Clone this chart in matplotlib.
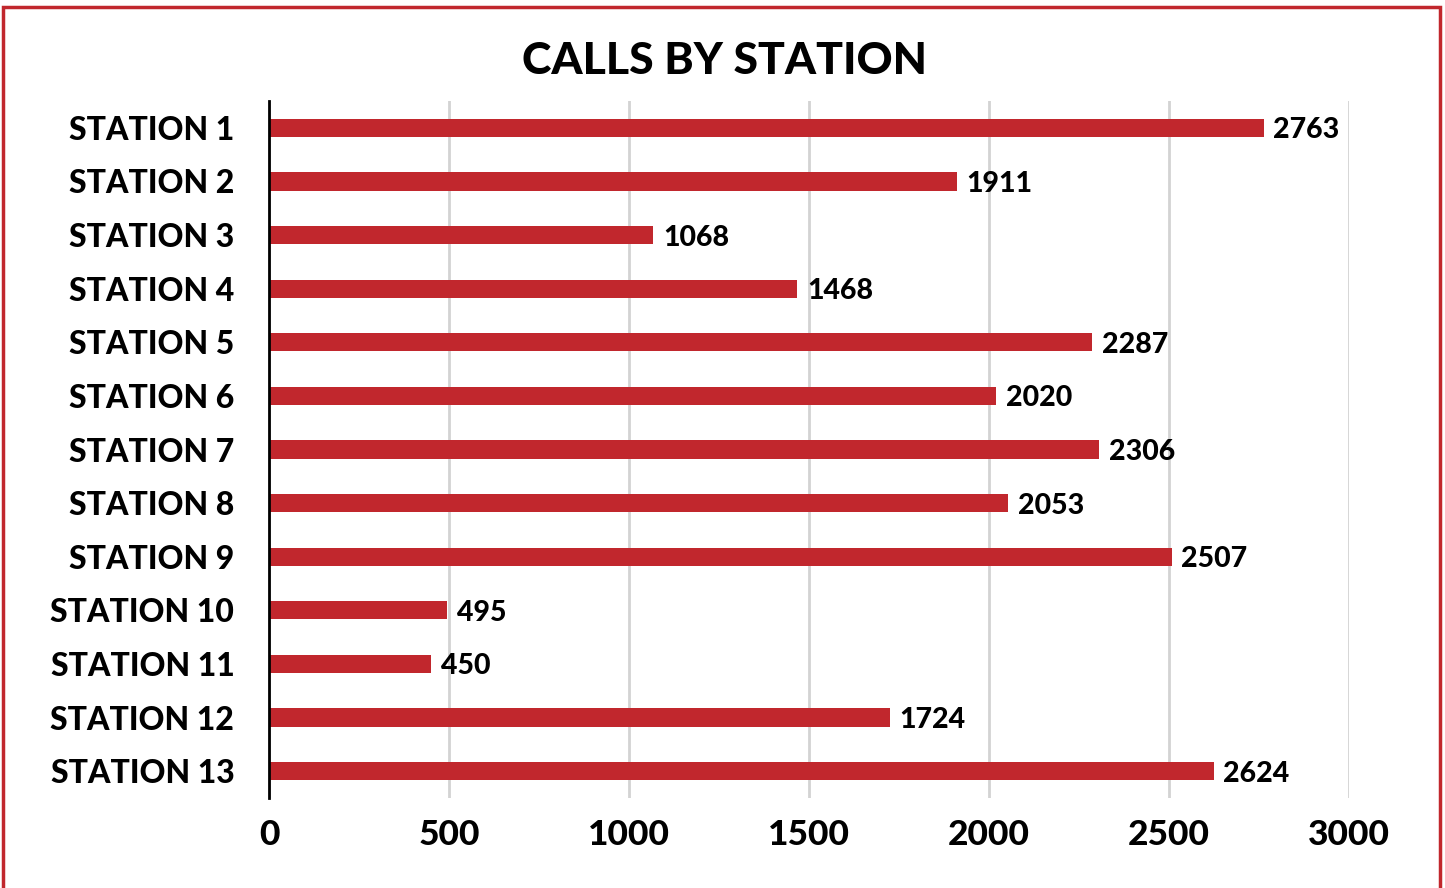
import matplotlib.pyplot as plt
from matplotlib.patches import Rectangle

stations = ["STATION 1", "STATION 2", "STATION 3", "STATION 4", "STATION 5",
            "STATION 6", "STATION 7", "STATION 8", "STATION 9", "STATION 10",
            "STATION 11", "STATION 12", "STATION 13"]
calls = [2763, 1911, 1068, 1468, 2287, 2020, 2306, 2053, 2507, 495, 450, 1724, 2624]
xticks = [0, 500, 1000, 1500, 2000, 2500, 3000]

RED = "#c1272d"
plt.rcParams['font.family'] = ['Lato', 'DejaVu Sans']
W = "black"  # heaviest Lato weight available

fig = plt.figure(figsize=(14.45, 8.88), dpi=100)
ax = fig.add_axes([269 / 1445, 90 / 888, 1080 / 1445, 697 / 888])

y = list(range(len(stations)))
ax.barh(y, calls, height=0.34, color=RED, zorder=3)
for yi, v in zip(y, calls):
    ax.annotate(str(v), (v, yi), xytext=(7, 0), textcoords="offset points",
                va="center_baseline", ha="left", fontsize=20.5, fontweight=W, zorder=4)

ax.set_ylim(len(stations) - 0.5, -0.5)
ax.set_xlim(0, 3000)
ax.set_yticks(y)
ax.set_yticklabels(stations, fontsize=23, fontweight=W)
ax.set_xticks(xticks)
ax.set_xticklabels([str(t) for t in xticks], fontsize=25.5, fontweight=W)
ax.tick_params(length=0)
ax.tick_params(axis="y", pad=25)
ax.tick_params(axis="x", pad=15)
ax.grid(axis="x", color="#d3d3d3", linewidth=2, zorder=0)
for s in ["top", "right", "bottom"]:
    ax.spines[s].set_visible(False)
ax.spines["left"].set_linewidth(2)
ax.spines["left"].set_zorder(5)

fig.text(725 / 1445, 1 - 58 / 888, "CALLS BY STATION", ha="center", va="center_baseline",
         fontsize=32, fontweight=W)

# red frame around the figure
fig.patches.append(Rectangle((3 / 1445, -0.05), 1437 / 1445, 1 - 7 / 888 + 0.05,
                             transform=fig.transFigure, fill=False,
                             edgecolor=RED, linewidth=2.5))

fig.savefig("out.png", dpi=100)
